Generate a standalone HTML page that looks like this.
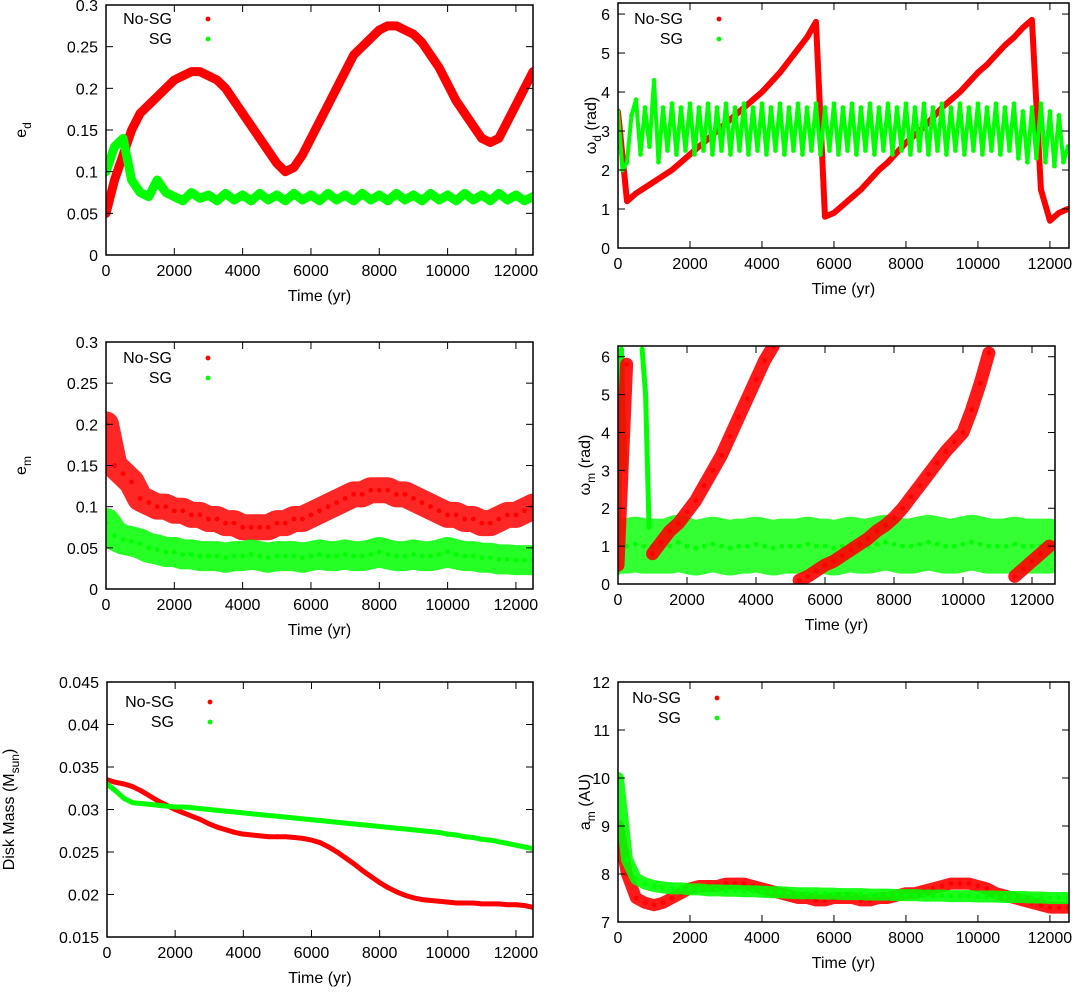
<!DOCTYPE html>
<html><head><meta charset="utf-8">
<style>
html,body{margin:0;padding:0;background:#fff;}
svg{display:block;font-family:"Liberation Sans",sans-serif;}
</style></head>
<body>
<svg id="fig" width="1074" height="994" viewBox="0 0 1074 994" xmlns="http://www.w3.org/2000/svg"></svg>
<script>
// ---- data (step = 250 yr unless noted) ----
const xTicks=[0,2000,4000,6000,8000,10000,12000];
const edRed=[0.05,0.09,0.12,0.15,0.17,0.18,0.19,0.2,0.21,0.215,0.22,0.22,0.215,0.21,0.2,0.185,0.17,0.155,0.14,0.125,0.11,0.1,0.105,0.12,0.14,0.16,0.18,0.2,0.22,0.24,0.25,0.26,0.27,0.275,0.275,0.27,0.265,0.255,0.24,0.225,0.205,0.185,0.17,0.155,0.14,0.135,0.14,0.16,0.18,0.2,0.22];
const edGreen=[0.1,0.13,0.14,0.09,0.075,0.07,0.09,0.075,0.07,0.065,0.075,0.068,0.072,0.065,0.074,0.066,0.072,0.065,0.074,0.066,0.072,0.065,0.074,0.066,0.072,0.065,0.074,0.066,0.072,0.065,0.074,0.066,0.072,0.065,0.074,0.066,0.072,0.065,0.074,0.066,0.072,0.065,0.074,0.066,0.072,0.065,0.074,0.066,0.072,0.065,0.07];
const wdRed=[3.5,1.2,1.4,1.55,1.7,1.85,2.0,2.2,2.4,2.6,2.8,3.0,3.2,3.4,3.6,3.8,4.0,4.25,4.5,4.8,5.1,5.4,5.8,0.8,0.9,1.1,1.3,1.5,1.75,2.0,2.2,2.45,2.7,2.9,3.1,3.35,3.6,3.8,4.0,4.25,4.5,4.7,4.95,5.2,5.4,5.65,5.85,1.5,0.7,0.9,1.0];
// green omega_d sampled every 125 yr
const wdGreen=[3.5,2.0,2.2,3.4,3.8,2.4,3.6,2.6,4.3,2.2,3.6,2.5,3.7,2.4,3.6,2.5,3.7,2.4,3.6,2.5,3.7,2.4,3.6,2.5,3.7,2.4,3.6,2.5,3.7,2.4,3.6,2.5,3.7,2.4,3.6,2.5,3.7,2.4,3.6,2.5,3.7,2.4,3.6,2.5,3.7,2.4,3.6,2.5,3.7,2.4,3.6,2.5,3.7,2.4,3.6,2.5,3.7,2.4,3.6,2.5,3.7,2.4,3.6,2.5,3.7,2.4,3.6,2.5,3.7,2.4,3.6,2.5,3.7,2.4,3.6,2.5,3.7,2.4,3.6,2.5,3.7,2.4,3.6,2.5,3.7,2.4,3.6,2.5,3.7,2.3,3.5,2.2,3.6,2.3,3.7,2.2,3.5,2.1,3.4,2.2,2.6];
const emRed=[0.2,0.15,0.14,0.13,0.11,0.105,0.1,0.1,0.095,0.095,0.09,0.09,0.085,0.085,0.08,0.08,0.075,0.075,0.075,0.075,0.08,0.08,0.085,0.085,0.09,0.095,0.1,0.105,0.11,0.115,0.115,0.12,0.12,0.12,0.115,0.115,0.11,0.105,0.1,0.095,0.09,0.09,0.085,0.085,0.08,0.08,0.085,0.09,0.09,0.095,0.1];
const emGreen=[0.08,0.065,0.06,0.058,0.055,0.05,0.048,0.045,0.045,0.042,0.042,0.04,0.04,0.04,0.038,0.04,0.04,0.042,0.04,0.038,0.04,0.04,0.04,0.038,0.04,0.042,0.04,0.04,0.042,0.04,0.04,0.042,0.045,0.042,0.04,0.04,0.042,0.04,0.04,0.042,0.045,0.042,0.04,0.04,0.038,0.038,0.036,0.036,0.035,0.035,0.035];
const wmRed=[0.5,5.8,null,null,0.8,1.1,1.4,1.6,1.9,2.2,2.6,3.0,3.4,3.9,4.4,4.9,5.4,5.9,6.28,null,null,0.1,0.2,0.35,0.5,0.6,0.75,0.9,1.05,1.2,1.4,1.55,1.75,2.0,2.3,2.6,2.9,3.2,3.5,3.75,4.0,4.6,5.3,6.1,null,null,0.2,0.4,0.6,0.8,1.0];
const wmGreen=[1.0,1.0,1.05,1.0,1.0,1.0,1.0,1.1,1.0,0.95,1.0,1.05,1.0,0.95,1.0,1.0,1.05,1.0,0.95,1.0,1.0,1.0,1.05,1.0,1.0,0.95,1.0,1.05,1.0,1.0,1.05,1.1,1.05,1.0,1.0,1.05,1.1,1.05,1.0,1.0,1.05,1.1,1.05,1.0,1.0,1.0,1.05,1.0,1.0,1.0,1.0];
// early green omega_m spikes, sampled every 100 yr
const wmGreenSpike=[0.3,6.2,3.0,null,null,null,null,6.2,5.0,1.5];
const mdRed=[0.0335,0.0332,0.033,0.0327,0.0322,0.0316,0.031,0.0305,0.03,0.0296,0.0292,0.0288,0.0283,0.0279,0.0276,0.0273,0.0271,0.027,0.0269,0.0268,0.0268,0.0268,0.0267,0.0266,0.0264,0.0261,0.0256,0.025,0.0243,0.0236,0.0228,0.0221,0.0214,0.0208,0.0203,0.0199,0.0196,0.0194,0.0193,0.0192,0.0191,0.019,0.019,0.019,0.0189,0.0189,0.0189,0.0188,0.0188,0.0187,0.0185];
const mdGreen=[0.033,0.0322,0.0313,0.0308,0.0307,0.0306,0.0305,0.0304,0.0303,0.0303,0.0302,0.0301,0.03,0.0299,0.0298,0.0297,0.0296,0.0295,0.0294,0.0293,0.0292,0.0291,0.029,0.0289,0.0288,0.0287,0.0286,0.0285,0.0284,0.0283,0.0282,0.0281,0.028,0.0279,0.0278,0.0277,0.0276,0.0275,0.0274,0.0273,0.0271,0.027,0.0268,0.0267,0.0265,0.0264,0.0262,0.026,0.0258,0.0256,0.0254];
const amRed=[9.0,8.0,7.5,7.4,7.35,7.4,7.5,7.6,7.7,7.75,7.75,7.75,7.8,7.8,7.8,7.75,7.7,7.65,7.6,7.55,7.5,7.5,7.45,7.45,7.5,7.5,7.5,7.45,7.45,7.5,7.5,7.55,7.6,7.6,7.65,7.7,7.75,7.8,7.8,7.8,7.75,7.7,7.6,7.55,7.5,7.45,7.4,7.35,7.3,7.3,7.3];
const amGreen=[10.0,8.3,7.9,7.8,7.75,7.72,7.7,7.7,7.68,7.68,7.66,7.66,7.65,7.65,7.64,7.64,7.63,7.62,7.62,7.61,7.6,7.6,7.6,7.59,7.59,7.58,7.58,7.58,7.57,7.57,7.57,7.56,7.56,7.56,7.55,7.55,7.55,7.54,7.54,7.54,7.53,7.53,7.53,7.52,7.52,7.52,7.51,7.51,7.5,7.5,7.5];
const edTicks=[0,0.05,0.1,0.15,0.2,0.25,0.3];
const wdTicks=[0,1,2,3,4,5,6];
const mdTicks=[0.015,0.02,0.025,0.03,0.035,0.04,0.045];
const amTicks=[7,8,9,10,11,12];

const NS="http://www.w3.org/2000/svg";
const svg=document.getElementById('fig');
function mk(tag,attrs,parent){const e=document.createElementNS(NS,tag);for(const k in attrs)e.setAttribute(k,attrs[k]);(parent||svg).appendChild(e);return e;}

function panel(cfg){
  const g=mk('g',{});
  
  
  const {L,R,T,B,xmax,ymin,ymax}=cfg;
  const sx=v=>L+(v/xmax)*(R-L);
  const sy=v=>B-(v-ymin)/(ymax-ymin)*(B-T);
  const cid='clip-'+cfg.name;
  const cp=mk('clipPath',{id:cid},g);mk('rect',{x:L,y:T,width:R-L,height:B-T},cp);
  const dg=mk('g',{'clip-path':'url(#'+cid+')'},g);
  cfg.series.forEach(s=>{
    const sg=mk('g',{},dg);
    
    
    let segs=[],cur=[];
    s.values.forEach((v,i)=>{ if(v===null){if(cur.length)segs.push(cur);cur=[];} else cur.push([sx(i*s.step),sy(v)]); });
    if(cur.length)segs.push(cur);
    segs.forEach(seg=>{
      const pl=mk('polyline',{points:seg.map(p=>p.join(',')).join(' '),fill:'none',stroke:s.color,'stroke-width':s.w,'stroke-linejoin':'round','stroke-linecap':'round',opacity:s.op||1},sg);
      
      
      seg.forEach(p=>{const c=mk('circle',{cx:p[0],cy:p[1],r:2.4,fill:s.color},sg);
        
        });
    });
  });
  const fr=mk('rect',{x:L,y:T,width:R-L,height:B-T,fill:'none',stroke:'#000','stroke-width':1.5},g);
  
  
  xTicks.forEach(t=>{const x=sx(t);
    mk('line',{x1:x,y1:B,x2:x,y2:B-7,stroke:'#000','stroke-width':1},g);
    mk('line',{x1:x,y1:T,x2:x,y2:T+7,stroke:'#000','stroke-width':1},g);
    const tx=mk('text',{x:x,y:B+21,'font-size':16,'text-anchor':'middle'},g);tx.textContent=t;
    
    });
  cfg.yTicks.forEach(t=>{const y=sy(t);
    mk('line',{x1:L,y1:y,x2:L+7,y2:y,stroke:'#000','stroke-width':1},g);
    mk('line',{x1:R,y1:y,x2:R-7,y2:y,stroke:'#000','stroke-width':1},g);
    const tx=mk('text',{x:L-8,y:y+6,'font-size':16,'text-anchor':'end'},g);tx.textContent=t;
    
    });
  const xt=mk('text',{x:(L+R)/2,y:B+46,'font-size':16,'text-anchor':'middle'},g);xt.textContent='Time (yr)';
  
  
  const yt=mk('text',{transform:'translate('+cfg.ytx+','+(T+B)/2+') rotate(-90)','font-size':16,'text-anchor':'middle'},g);
  yt.innerHTML=cfg.ytitle;
  
  
  if(cfg.legend){
    [['No-SG','#ff0000',0],['SG','#00ff00',1]].forEach(([lab,col,k])=>{
      const ly=cfg.legend.y+k*20;
      const lt=mk('text',{x:cfg.legend.x,y:ly+6,'font-size':16,'text-anchor':'end'},g);lt.textContent=lab;
      
      
      const lc=mk('circle',{cx:cfg.legend.x+36,cy:ly+1,r:2.4,fill:col},g);
      
      
    });
  }
}
const R='#ff0000',G='#00ff00';
panel({name:'panel-ed',L:106,R:533,T:5,B:255,xmax:12500,ymin:0,ymax:0.3,yTicks:edTicks,ytx:26,
  ytitle:'e<tspan font-size="12" dy="5">d</tspan>',legend:{x:172,y:18},
  series:[{name:'ed-nosg',values:edRed,step:250,color:R,w:9},{name:'ed-sg',values:edGreen,step:250,color:G,w:9}]});
panel({name:'panel-wd',L:618,R:1069,T:3,B:248,xmax:12530,ymin:0,ymax:6.2832,yTicks:wdTicks,ytx:596,
  ytitle:'ω<tspan font-size="12" dy="5">d</tspan><tspan dy="-5"> (rad)</tspan>',legend:{x:683,y:18},
  series:[{name:'wd-nosg',values:wdRed,step:250,color:R,w:6},{name:'wd-sg',values:wdGreen,step:125,color:G,w:4}]});
panel({name:'panel-em',L:106,R:533,T:342,B:589,xmax:12500,ymin:0,ymax:0.3,yTicks:edTicks,ytx:26,
  ytitle:'e<tspan font-size="12" dy="5">m</tspan>',legend:{x:172,y:357},
  series:[{name:'em-nosg',values:emRed,step:250,color:R,w:26,op:0.85},{name:'em-sg',values:emGreen,step:250,color:G,w:30,op:0.85}]});
panel({name:'panel-wm',L:618,R:1055,T:346,B:584,xmax:12667,ymin:0,ymax:6.2832,yTicks:wdTicks,ytx:590,
  ytitle:'ω<tspan font-size="12" dy="5">m</tspan><tspan dy="-5"> (rad)</tspan>',legend:null,
  series:[{name:'wm-sg',values:wmGreen,step:250,color:G,w:55,op:0.8},{name:'wm-sg-spike',values:wmGreenSpike,step:100,color:G,w:5},{name:'wm-nosg',values:wmRed,step:250,color:R,w:13,op:0.9}]});
panel({name:'panel-mass',L:107,R:533,T:682,B:937,xmax:12500,ymin:0.015,ymax:0.045,yTicks:mdTicks,ytx:14,
  ytitle:'Disk Mass (M<tspan font-size="12" dy="5">sun</tspan><tspan dy="-5">)</tspan>',legend:{x:174,y:701},
  series:[{name:'mass-nosg',values:mdRed,step:250,color:R,w:5},{name:'mass-sg',values:mdGreen,step:250,color:G,w:5}]});
panel({name:'panel-am',L:618,R:1069,T:682,B:922,xmax:12530,ymin:7,ymax:12,yTicks:amTicks,ytx:590,
  ytitle:'a<tspan font-size="12" dy="5">m</tspan><tspan dy="-5"> (AU)</tspan>',legend:{x:681,y:697},
  series:[{name:'am-nosg',values:amRed,step:250,color:R,w:12,op:0.9},{name:'am-sg',values:amGreen,step:250,color:G,w:12,op:0.9}]});
</script>
</body></html>
